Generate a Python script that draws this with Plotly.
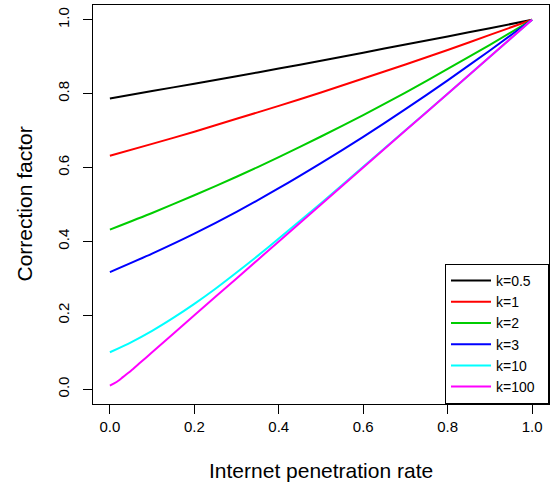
import plotly.graph_objects as go

# Internet penetration rate (x) values
p_std = [0.0, 0.1, 0.2, 0.3, 0.4, 0.5, 0.6, 0.7, 0.8, 0.9, 1.0]
p_k10 = [0.0, 0.05, 0.1, 0.15, 0.2, 0.25, 0.3, 0.35, 0.4, 0.5, 0.6, 0.7, 0.8, 0.9, 1.0]
p_k100 = [0.0, 0.01, 0.02, 0.03, 0.04, 0.05, 0.07, 0.1, 0.2, 0.3, 0.4, 0.5, 0.6, 0.7, 0.8, 0.9, 1.0]

# Correction factor values
cf_k05 = [0.787, 0.807, 0.827, 0.847, 0.868, 0.889, 0.911, 0.933, 0.955, 0.977, 1.0]
cf_k1 = [0.632, 0.664, 0.697, 0.732, 0.767, 0.803, 0.841, 0.879, 0.918, 0.959, 1.0]
cf_k2 = [0.432, 0.477, 0.525, 0.575, 0.628, 0.684, 0.742, 0.803, 0.867, 0.932, 1.0]
cf_k3 = [0.317, 0.367, 0.421, 0.480, 0.544, 0.612, 0.683, 0.758, 0.836, 0.917, 1.0]
cf_k10 = [0.100, 0.127, 0.158, 0.193, 0.231, 0.272, 0.316, 0.361, 0.408, 0.503, 0.602, 0.701, 0.800, 0.900, 1.0]
cf_k100 = [0.010, 0.016, 0.023, 0.032, 0.041, 0.050, 0.070, 0.100, 0.200, 0.300, 0.400, 0.500, 0.600, 0.700, 0.800, 0.900, 1.0]

labels = ["k=0.5", "k=1", "k=2", "k=3", "k=10", "k=100"]
colors = ["#000000", "#FF0000", "#00CD00", "#0000FF", "#00FFFF", "#FF00FF"]
xs = [p_std, p_std, p_std, p_std, p_k10, p_k100]
ys = [cf_k05, cf_k1, cf_k2, cf_k3, cf_k10, cf_k100]

tick_vals = [0.0, 0.2, 0.4, 0.6, 0.8, 1.0]
tick_text = ["0.0", "0.2", "0.4", "0.6", "0.8", "1.0"]

FONT = "Liberation Sans, Arial, sans-serif"
PAD = "\u00a0\u00a0"  # spacing so the legend box is as wide as the original

fig = go.Figure()
for x, y, lab, col in zip(xs, ys, labels, colors):
    fig.add_trace(go.Scatter(x=x, y=y, mode="lines", name=lab + PAD,
                             line=dict(color=col, width=2, shape="spline", smoothing=0.6)))

axis_common = dict(
    showgrid=False, zeroline=False, showline=True, mirror=True,
    linecolor="black", linewidth=1, ticks="outside", ticklen=9,
    tickcolor="black", tickwidth=1,
    tickvals=tick_vals, ticktext=tick_text,
    tickfont=dict(family=FONT, size=15, color="black"),
)

fig.update_layout(
    width=550, height=486,
    margin=dict(l=93, r=1, t=5, b=82),
    paper_bgcolor="white", plot_bgcolor="white",
    font=dict(family=FONT, color="black"),
    xaxis=dict(range=[-0.04, 1.04], **axis_common),
    yaxis=dict(range=[-0.04, 1.04], tickangle=-90, ticklabelstandoff=8, **axis_common),
    legend=dict(
        x=1, y=0, xanchor="right", yanchor="bottom",
        bordercolor="black", borderwidth=1, bgcolor="white",
        font=dict(family=FONT, size=14, color="black"),
        tracegroupgap=0, itemwidth=40,
    ),
    showlegend=True,
    annotations=[
        dict(text="Internet penetration rate", x=0.5, y=0, xref="paper", yref="paper",
             xanchor="center", yanchor="middle", yshift=-66, showarrow=False,
             font=dict(family=FONT, size=21, color="black")),
        dict(text="Correction factor", x=0, y=0.5, xref="paper", yref="paper",
             xanchor="center", yanchor="middle", xshift=-69, textangle=-90, showarrow=False,
             font=dict(family=FONT, size=21, color="black")),
    ],
)

fig.write_html("out.html", post_script="document.body.style.margin='0';",
               config={"displayModeBar": False})
